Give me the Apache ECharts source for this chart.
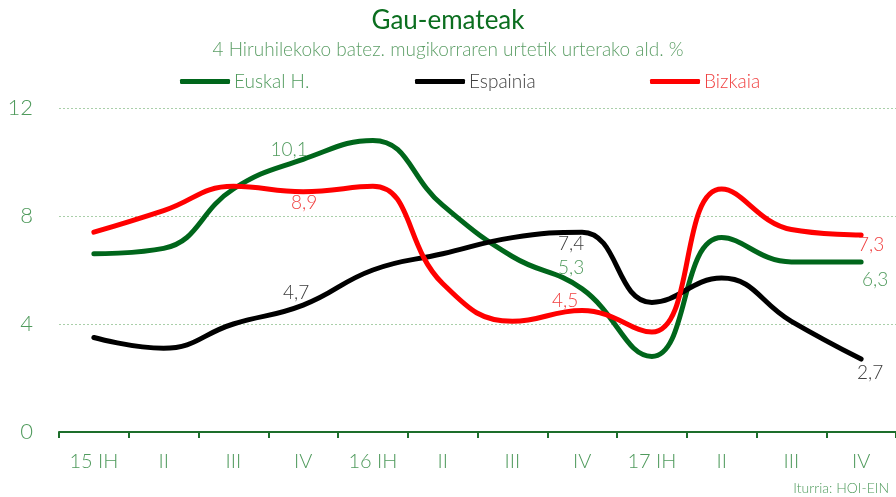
<!DOCTYPE html>
<html>
<head>
<meta charset="utf-8">
<script src="https://cdn.jsdelivr.net/npm/echarts@6/dist/echarts.min.js"></script>
<style>
  html, body { margin: 0; padding: 0; background: #fff; }
  #chart { width: 896px; height: 497px; }
</style>
</head>
<body>
<div id="chart"></div>
<script>
// Quarters
const quarters = ['15 IH', 'II', 'III', 'IV', '16 IH', 'II', 'III', 'IV', '17 IH', 'II', 'III', 'IV'];

// Series values (% change)
const euskalH = [6.6, 6.8, 9.0, 10.1, 10.8, 8.4, 6.5, 5.3, 2.8, 7.2, 6.3, 6.3];
const espainia = [3.5, 3.1, 4.0, 4.7, 6.0, 6.6, 7.2, 7.4, 4.8, 5.7, 4.1, 2.7];
const bizkaia = [7.4, 8.2, 9.1, 8.9, 9.1, 5.5, 4.1, 4.5, 3.7, 9.0, 7.5, 7.3];

const yTicks = [0, 4, 8, 12];

// which points carry a value label, and where the label sits
const greenLabels = { 3: [-14, -9], 7: [-11, -21], 11: [14, 18] };
const blackLabels = { 3: [-7, -12], 7: [-11, 12], 11: [9, 14] };
const redLabels = { 3: [1, 11], 7: [-17, -10], 11: [10, 10] };

const fontFamily = 'Lato, "Noto Sans", sans-serif';

function withLabels(values, labels, color) {
    return values.map((v, i) => {
        if (!labels[i]) return v;
        return {
            value: v,
            label: {
                show: true,
                position: 'inside',
                offset: labels[i],
                color: color,
                fontSize: 19,
                fontWeight: 300,
                fontFamily: fontFamily,
                formatter: p => String(p.value).replace('.', ',')
            }
        };
    });
}

function lineSeries(name, values, lineColor, labels, labelColor) {
    return {
        name: name,
        type: 'line',
        smooth: 0.45,
        symbol: 'circle',
        symbolSize: 0,
        showSymbol: true,
        data: withLabels(values, labels, labelColor),
        lineStyle: { color: lineColor, width: 5, cap: 'round' },
        itemStyle: { color: lineColor },
        label: { show: false },
        emphasis: { disabled: true },
        z: 3
    };
}

function legendItem(name, left, textColor) {
    return {
        data: [name],
        left: left,
        top: 72,
        padding: 0,
        icon: 'roundRect',
        itemWidth: 50,
        itemHeight: 5,
        itemGap: 0,
        textStyle: { color: textColor, fontSize: 19, fontWeight: 300, fontFamily: fontFamily, padding: [0, 0, 0, -1] }
    };
}

const chart = echarts.init(document.getElementById('chart'));

chart.setOption({
    animation: false,
    backgroundColor: '#fff',
    title: {
        text: 'Gau-emateak',
        subtext: '4 Hiruhilekoko batez. mugikorraren urtetik urterako ald. %',
        left: 'center',
        top: 8,
        padding: 0,
        itemGap: 6,
        textStyle: { color: '#0b6e1f', fontSize: 26, fontWeight: 400, fontFamily: fontFamily },
        subtextStyle: { color: '#5c9e66', fontSize: 19, fontWeight: 300, fontFamily: fontFamily }
    },
    legend: [
        legendItem('Euskal H.', 180, '#4f9a5c'),
        legendItem('Espainia', 415, '#404040'),
        legendItem('Bizkaia', 650, '#f04040')
    ],
    grid: { left: 59, top: 108, width: 847, height: 324, containLabel: false },
    xAxis: {
        type: 'category',
        data: quarters,
        boundaryGap: true,
        axisLine: { lineStyle: { color: '#1d6e2b', width: 2 } },
        axisTick: { show: true, length: 6, lineStyle: { color: '#1d6e2b', width: 2 } },
        axisLabel: {
            color: '#4f9a5c',
            fontSize: 20,
            fontWeight: 300,
            fontFamily: fontFamily,
            margin: 20
        },
        splitLine: { show: false }
    },
    yAxis: {
        type: 'value',
        min: yTicks[0],
        max: yTicks[yTicks.length - 1],
        interval: 4,
        axisLine: { show: false },
        axisTick: { show: false },
        axisLabel: {
            color: '#4f9a5c',
            fontSize: 22,
            fontWeight: 300,
            fontFamily: fontFamily,
            margin: 26
        },
        splitLine: {
            lineStyle: { color: '#a9cfa9', type: [2, 2], width: 1 }
        }
    },
    series: [
        lineSeries('Euskal H.', euskalH, '#00661b', greenLabels, '#4f9a5c'),
        lineSeries('Espainia', espainia, '#000000', blackLabels, '#404040'),
        lineSeries('Bizkaia', bizkaia, '#ff0000', redLabels, '#f04040')
    ],
    graphic: [{
        type: 'text',
        right: 7,
        top: 481,
        style: {
            text: 'Iturria: HOI-EIN',
            fill: '#4f9a5c',
            fontSize: 14,
            fontWeight: 300,
            fontFamily: fontFamily
        }
    }]
});
</script>
</body>
</html>
